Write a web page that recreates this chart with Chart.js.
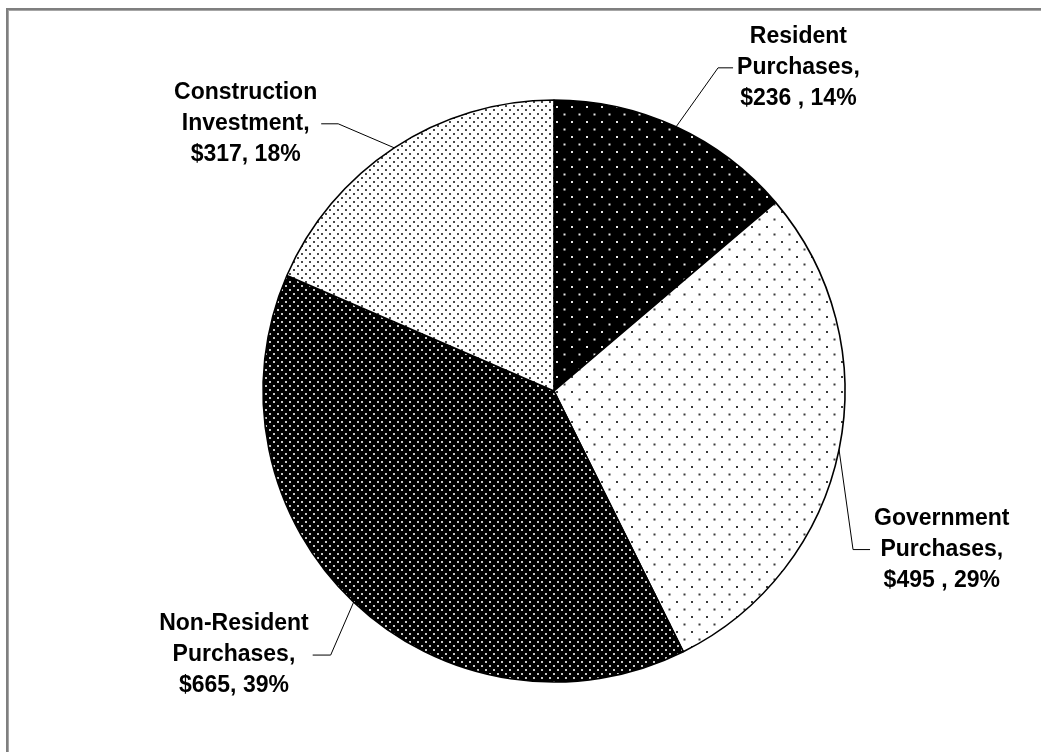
<!DOCTYPE html>
<html>
<head>
<meta charset="utf-8">
<script src="https://cdn.jsdelivr.net/npm/chart.js@4/dist/chart.umd.min.js"></script>
<style>
  html, body { margin: 0; padding: 0; background: #fff; }
  #wrap { position: relative; width: 1041px; height: 752px; }
</style>
</head>
<body>
<div id="wrap"><canvas id="c" width="1041" height="752"></canvas></div>
<script>
// ---- data ----
const categories = ["Resident Purchases", "Government Purchases", "Non-Resident Purchases", "Construction Investment"];
const values = [236, 495, 665, 317];
const percents = ["14%", "29%", "39%", "18%"];
const labelLines = [
  ["Resident", "Purchases,", "$236 , 14%"],
  ["Government", "Purchases,", "$495 , 29%"],
  ["Non-Resident", "Purchases,", "$665, 39%"],
  ["Construction", "Investment,", "$317, 18%"]
];

// ---- label leader geometry (annotation placement, relative to slice edge midpoint) ----
const leaders = [
  { elbow: [42, -59], run: 15 },
  { elbow: [14, 100], run: 17 },
  { elbow: [-23, 53], run: -18 },
  { elbow: [-56, -24], run: -17 }
];

function makePattern(bg, dot, period, dotSize) {
  const t = document.createElement('canvas');
  t.width = period; t.height = period;
  const g = t.getContext('2d');
  g.fillStyle = bg; g.fillRect(0, 0, period, period);
  g.fillStyle = dot;
  const h = period / 2;
  g.fillRect(1, 1, dotSize, dotSize);
  g.fillRect(1 + h, 1 + h, dotSize, dotSize);
  return g.createPattern(t, 'repeat');
}
const tmp = document.createElement('canvas').getContext('2d');
const patterns = [
  makePattern('#000000', '#e6e6e6', 15, 2),   // Resident: black, sparse white dots
  makePattern('#ffffff', '#3a3a3a', 15, 2),   // Government: white, sparse black dots
  makePattern('#000000', '#c8c8c8', 8, 2),    // Non-Resident: black, dense white dots
  makePattern('#ffffff', '#4a4a4a', 8, 2)     // Construction: white, dense dark dots
];

const framePlugin = {
  id: 'frame',
  beforeDraw(chart) {
    const ctx = chart.ctx;
    ctx.save();
    ctx.fillStyle = '#7f7f7f';
    ctx.fillRect(6, 8, 1041 - 6, 2);
    ctx.fillRect(6, 8, 2, 752 - 8);
    ctx.fillStyle = '#a6a6a6';
    ctx.fillRect(8, 10, 1041 - 8, 1);
    ctx.fillRect(8, 10, 1, 752 - 10);
    ctx.restore();
  }
};

const labelPlugin = {
  id: 'pieLabels',
  afterDatasetsDraw(chart) {
    const ctx = chart.ctx;
    const meta = chart.getDatasetMeta(0);
    ctx.save();
    ctx.font = 'bold 23px "Liberation Sans", Arial, sans-serif';
    ctx.textAlign = 'center';
    ctx.textBaseline = 'middle';
    meta.data.forEach((arc, i) => {
      const p = arc.getProps(['x', 'y', 'startAngle', 'endAngle', 'outerRadius'], true);
      const mid = (p.startAngle + p.endAngle) / 2;
      const ax = p.x + Math.cos(mid) * p.outerRadius;
      const ay = p.y + Math.sin(mid) * p.outerRadius;
      const L = leaders[i];
      const ex = ax + L.elbow[0], ey = ay + L.elbow[1];
      const fx = ex + L.run;
      ctx.strokeStyle = '#000';
      ctx.lineWidth = 1;
      ctx.beginPath();
      ctx.moveTo(ax, ay);
      ctx.lineTo(ex, ey);
      ctx.lineTo(fx, ey);
      ctx.stroke();
      const lines = labelLines[i];
      const maxW = Math.max(...lines.map(s => ctx.measureText(s).width));
      const dir = L.run >= 0 ? 1 : -1;
      const cx = fx + dir * (4 + maxW / 2);
      const lh = 31;
      ctx.fillStyle = '#000';
      lines.forEach((s, k) => {
        ctx.fillText(s, cx, ey + (k - 1) * lh);
      });
    });
    ctx.restore();
  }
};

new Chart(document.getElementById('c'), {
  type: 'pie',
  data: {
    labels: categories,
    datasets: [{
      data: values,
      backgroundColor: patterns,
      borderColor: '#000000',
      borderWidth: 1.6
    }]
  },
  options: {
    responsive: false,
    animation: false,
    radius: 291,
    layout: { padding: { left: 67, top: 30, right: 0, bottom: 0 } },
    plugins: {
      legend: { display: false },
      tooltip: { enabled: false }
    }
  },
  plugins: [framePlugin, labelPlugin]
});
</script>
</body>
</html>
